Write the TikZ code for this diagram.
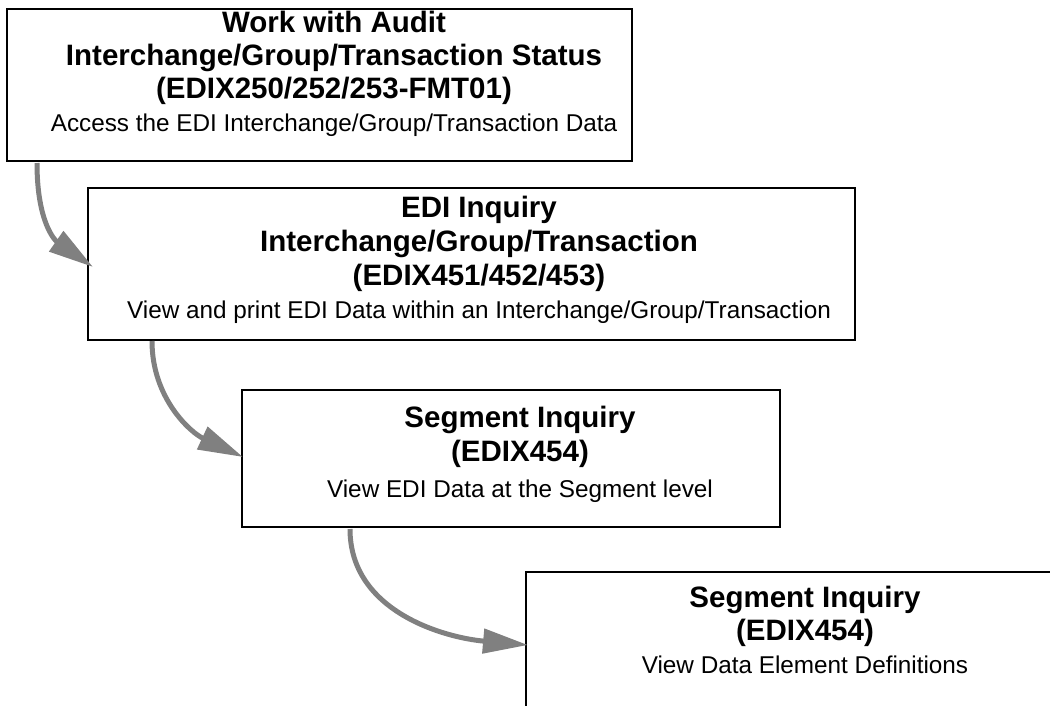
\documentclass[tikz,border=0pt]{standalone}
\usepackage{fontspec}
\setmainfont{Liberation Sans}
\usetikzlibrary{arrows.meta}
\definecolor{flowgray}{HTML}{808080}
\tikzset{
  box/.style={draw, line width=2pt, anchor=north west, inner sep=0pt, outer sep=0pt},
  head/.style={anchor=base, inner sep=0pt, font=\fontsize{29.5}{33}\selectfont\bfseries},
  note/.style={anchor=base, inner sep=0pt, font=\fontsize{24.3}{28}\selectfont},
  flow/.style={draw=flowgray, line width=5pt, -{Triangle[length=45pt,width=24pt]}}
}
\begin{document}
\begin{tikzpicture}[x=1pt,y=-1pt]
	\clip (0,0) rectangle (1050,705);
	% boxes
	\node[box, minimum width=625pt, minimum height=152pt] (b1) at (7,9) {};
	\node[box, minimum width=767pt, minimum height=152pt] (b2) at (88,188) {};
	\node[box, minimum width=538pt, minimum height=137pt] (b3) at (242,390) {};
	\node[box, minimum width=545pt, minimum height=160pt] (b4) at (526,572) {};
	% texts
	\node[head] (b1t1) at (334,32) {Work with Audit};
	\node[head] (b1t2) at (334,65) {Interchange/Group/Transaction Status};
	\node[head] (b1t3) at (334,98) {(EDIX250/252/253-FMT01)};
	\node[note] (b1t4) at (334,131) {Access the EDI Interchange/Group/Transaction Data};
	\node[head] (b2t1) at (479,217) {EDI Inquiry};
	\node[head] (b2t2) at (479,251) {Interchange/Group/Transaction};
	\node[head] (b2t3) at (479,285) {(EDIX451/452/453)};
	\node[note] (b2t4) at (479,318) {View and print EDI Data within an Interchange/Group/Transaction};
	\node[head] (b3t1) at (520,427) {Segment Inquiry};
	\node[head] (b3t2) at (520,461) {(EDIX454)};
	\node[note] (b3t3) at (520,497) {View EDI Data at the Segment level};
	\node[head] (b4t1) at (805,607) {Segment Inquiry};
	\node[head] (b4t2) at (805,640) {(EDIX454)};
	\node[note] (b4t3) at (805,673) {View Data Element Definitions};
	% arrows
	\draw[flow] ([xshift=30pt,yshift=-2pt]b1.south west) to[out=-90,in=145,out looseness=1.3] ([xshift=5pt,yshift=-3pt]b2.west);
	\draw[flow] ([xshift=64pt,yshift=-1pt]b2.south west) to[out=-90,in=155] ([xshift=1pt,yshift=1.5pt]b3.west);
	\draw[flow] ([xshift=108pt,yshift=-2pt]b3.south west) to[out=-90,in=175] ([xshift=2pt,yshift=-73pt]b4.north west);
\end{tikzpicture}
\end{document}
